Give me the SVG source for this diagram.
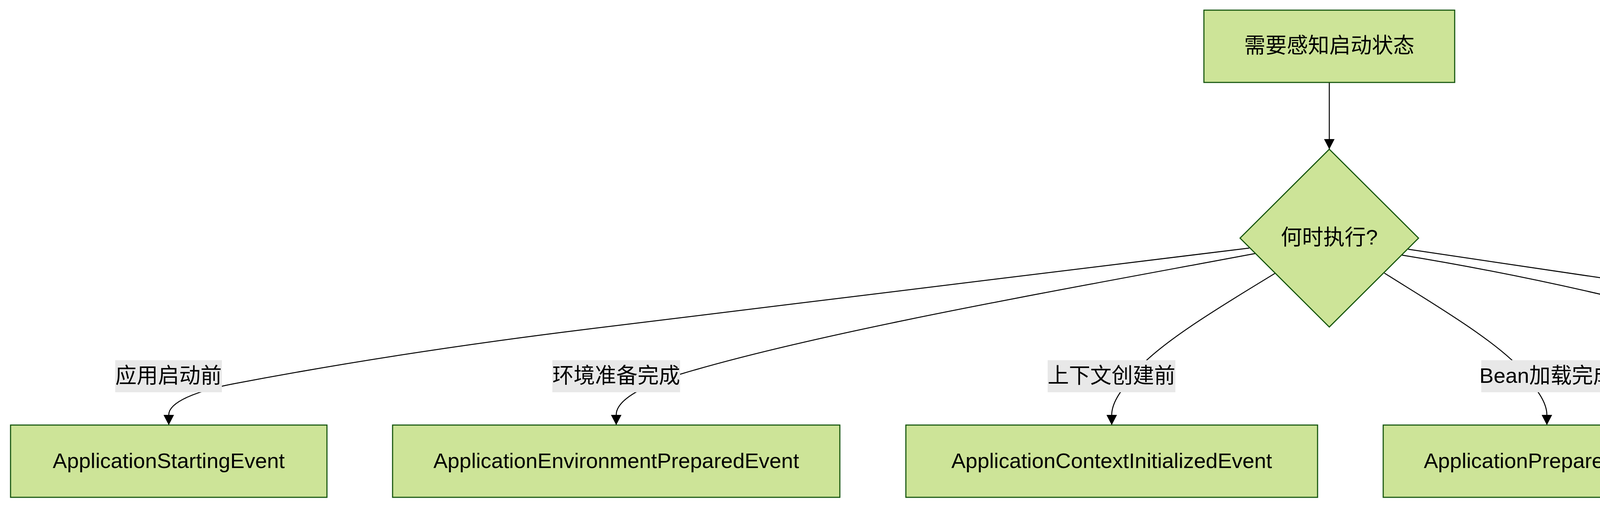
<svg xmlns="http://www.w3.org/2000/svg" width="6336" height="1308" viewBox="0 0 6336 1308">
<style>
.node rect, .node polygon { fill:#cde498; stroke:#13540c; stroke-width:2.8; }
.t { font-family:"Liberation Sans","Noto Sans CJK SC",sans-serif; font-size:54.5px; fill:#000; text-anchor:middle; }
.edge { fill:none; stroke:#000; stroke-width:2.5; marker-end:url(#arrow); }
.lbl rect { fill:#e8e8e8; }
</style>
<defs>
<marker id="arrow" markerUnits="userSpaceOnUse" markerWidth="27" markerHeight="27" refX="26" refY="13.5" orient="auto" viewBox="0 0 27 27"><path d="M0,0 L26,13.5 L0,27 Z" fill="#000"/></marker>
</defs>
<rect width="6336" height="1308" fill="#ffffff"/>
<g id="connectors">
<path class="edge" d="M3403,211 L3403,382"/>
<path class="edge" d="M3198,635 L1500,843 C1200,880 900,925 600,982 C500,1001 432,1030 432,1062 L432,1088"/>
<path class="edge" d="M3213,649 C2700,745 2100,850 1741,958 C1680,976 1577.5,1015 1577.5,1062 L1577.5,1088"/>
<path class="edge" d="M3265,699 C3150,770 2960,880 2900,960 C2870,1000 2846,1030 2846,1062 L2846,1088"/>
<path class="edge" d="M3544,699 C3656,770 3846,880 3906,960 C3936,1000 3960,1030 3960,1062 L3960,1088"/>
<path class="edge" d="M3589,653 C4000,720 4500,840 4810,962 C4880,990 4946,1020 4946,1062 L4946,1088"/>
<path class="edge" d="M3605,638 L5250,882 C5450,912 5650,945 5787,990 C5840,1010 5895.5,1020 5895.5,1062 L5895.5,1088"/>
</g>
<g id="node-start" class="node">
<rect x="3082" y="26" width="642" height="185"/>
<text class="t" x="3403" y="135">需要感知启动状态</text>
</g>
<g id="node-decision" class="node">
<polygon points="3403,382 3631.5,609.5 3403,837 3174.5,609.5"/>
<text class="t" x="3403" y="626">何时执行?</text>
</g>
<g id="node-starting" class="node">
<rect x="27" y="1088" width="810" height="185"/>
<text class="t" x="432" y="1198">ApplicationStartingEvent</text>
</g>
<g id="node-env" class="node">
<rect x="1005" y="1088" width="1145" height="185"/>
<text class="t" x="1577.5" y="1198">ApplicationEnvironmentPreparedEvent</text>
</g>
<g id="node-ctx" class="node">
<rect x="2319" y="1088" width="1054" height="185"/>
<text class="t" x="2846" y="1198">ApplicationContextInitializedEvent</text>
</g>
<g id="node-prepared" class="node">
<rect x="3541" y="1088" width="838" height="185"/>
<text class="t" x="3960" y="1198">ApplicationPreparedEvent</text>
</g>
<g id="node-started" class="node">
<rect x="4547" y="1088" width="798" height="185"/>
<text class="t" x="4946" y="1198">ApplicationStartedEvent</text>
</g>
<g id="node-ready" class="node">
<rect x="5514" y="1088" width="763" height="185"/>
<text class="t" x="5895.5" y="1198">ApplicationReadyEvent</text>
</g>
<g id="edge-labels" class="lbl">
<rect x="295" y="922" width="273" height="82"/>
<text class="t" x="431.5" y="980">应用启动前</text>
<rect x="1414" y="922" width="327" height="82"/>
<text class="t" x="1577.5" y="980">环境准备完成</text>
<rect x="2682" y="922" width="327" height="82"/>
<text class="t" x="2845.5" y="980">上下文创建前</text>
<rect x="3792" y="922" width="336" height="82"/>
<text class="t" x="3960" y="980">Bean加载完成</text>
<rect x="4810" y="922" width="272" height="82"/>
<text class="t" x="4946" y="980">应用已启动</text>
<rect x="5787" y="922" width="216" height="82"/>
<text class="t" x="5895" y="980">应用就绪</text>
</g>
</svg>
